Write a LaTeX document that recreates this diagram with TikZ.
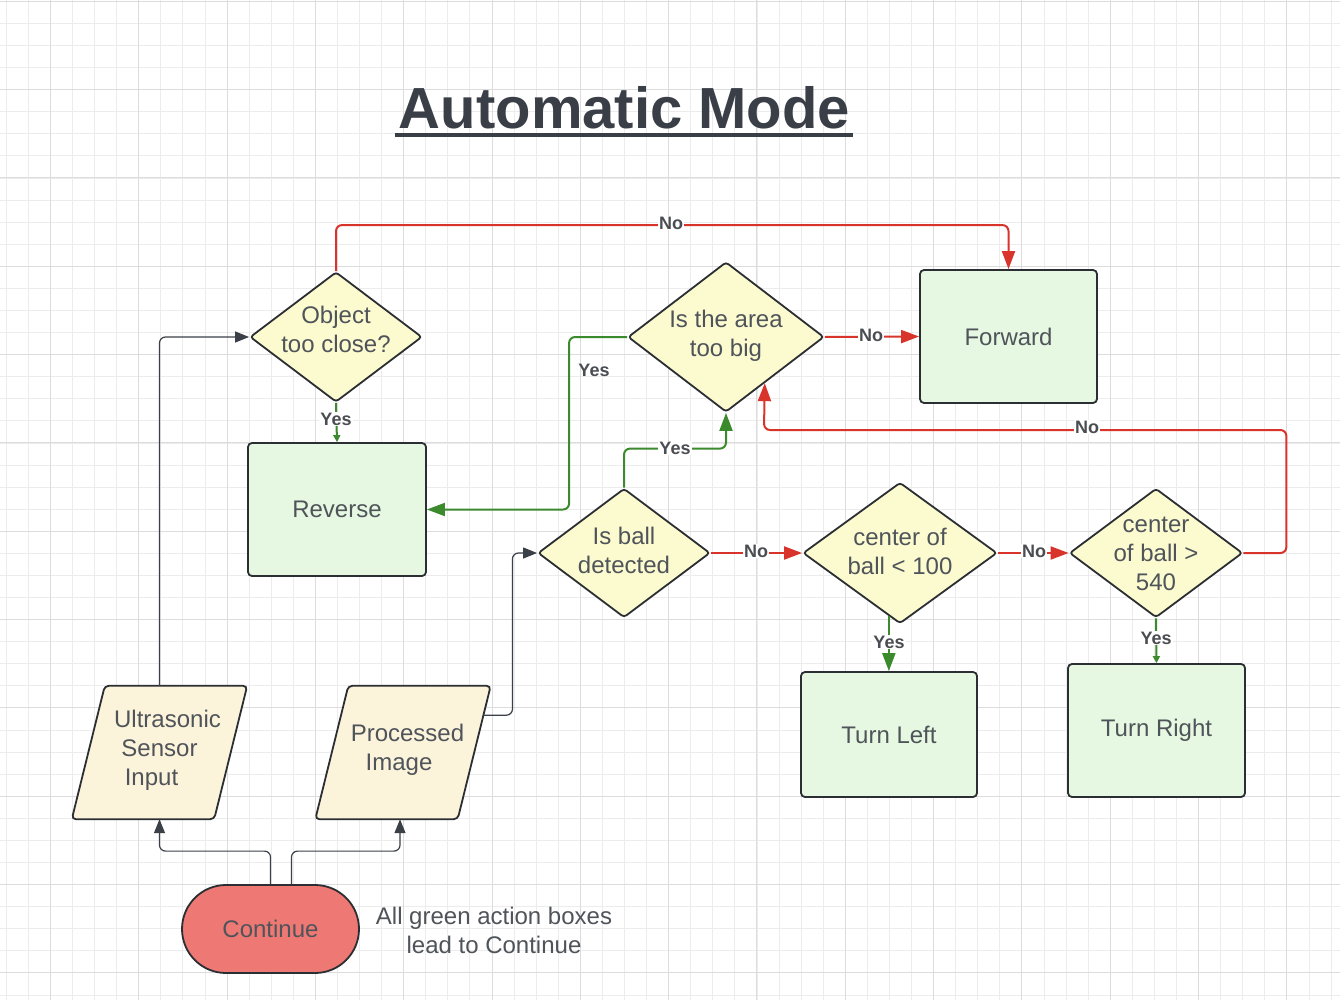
\documentclass[tikz,border=0pt]{standalone}
\usepackage{fontspec}
\setmainfont{Liberation Sans}
\usetikzlibrary{shapes.geometric,arrows.meta,calc}
\pgfdeclarelayer{gridlayer}
\pgfdeclarelayer{shapelayer}
\pgfsetlayers{gridlayer,shapelayer,main}
\definecolor{gminorc}{HTML}{ECECEC}
\definecolor{gmajorc}{HTML}{DCDCDC}
\definecolor{txtc}{HTML}{4F545A}
\definecolor{titlec}{HTML}{3A3E47}
\definecolor{strokec}{HTML}{2B2E33}
\definecolor{yfill}{HTML}{FCFACF}
\definecolor{gfill}{HTML}{E6F8E1}
\definecolor{cfill}{HTML}{FCF3DB}
\definecolor{rfill}{HTML}{EE7873}
\definecolor{redl}{HTML}{D9342B}
\definecolor{greenl}{HTML}{3C8A2E}
\definecolor{darkl}{HTML}{3B3F48}
\definecolor{lblc}{HTML}{4A4D52}
\newcommand{\ctext}[2][-8.8pt]{\makebox[0pt]{\smash{\raisebox{#1}{\begin{tabular}{@{}c@{}}#2\end{tabular}}}}}
\tikzset{
  gminor/.style={draw=gminorc, line width=0.8pt},
  gmajor/.style={draw=gmajorc, line width=1pt},
  nodefont/.style={font=\fontsize{24}{29}\selectfont, text=txtc},
  dec/.style={diamond, draw=strokec, line width=1.8pt, fill=yfill, rounded corners=3pt, inner sep=0pt, nodefont},
  actbox/.style={rectangle, draw=strokec, line width=1.8pt, fill=gfill, rounded corners=4pt, nodefont},
  iotxt/.style={rectangle, inner sep=0pt, minimum width=175pt, minimum height=133pt, nodefont},
  iopath/.style={draw=strokec, line width=1.8pt, fill=cfill, rounded corners=4pt},
  termbox/.style={rectangle, draw=strokec, line width=1.8pt, fill=rfill, rounded corners=44pt, minimum width=177pt, minimum height=88pt, nodefont},
  lbl/.style={font=\bfseries\fontsize{18}{20}\selectfont, text=lblc, fill=white, inner sep=1pt},
  rarr/.style={draw=redl, line width=2pt, rounded corners=6pt, -{Triangle[length=18pt,width=13pt]}},
  garr/.style={draw=greenl, line width=2pt, rounded corners=6pt, -{Triangle[length=18pt,width=13pt]}},
  garrs/.style={draw=greenl, line width=2pt, -{Triangle[length=7pt,width=7pt]}},
  darr/.style={draw=darkl, line width=1.2pt, rounded corners=6pt, -{Triangle[length=14pt,width=11pt]}}
}
\begin{document}
\begin{tikzpicture}[x=1pt,y=-1pt]
\useasboundingbox (0,0) rectangle (1340,1000);
\begin{pgfonlayer}{gridlayer}
\fill[white] (0,0) rectangle (1340,1000);
\foreach \i in {0,...,60} \draw[gminor] ({6.2+22.08*\i},0) -- ({6.2+22.08*\i},1000);
\foreach \i in {0,...,45} \draw[gminor] (0,{1.3+22.08*\i}) -- (1340,{1.3+22.08*\i});
\foreach \i in {0,...,14} \draw[gmajor] ({50.4+88.32*\i},0) -- ({50.4+88.32*\i},1000);
\foreach \i in {0,...,11} \draw[gmajor] (0,{1.3+88.32*\i}) -- (1340,{1.3+88.32*\i});
\end{pgfonlayer}

% title
\node[anchor=base, inner sep=0pt, font=\bfseries\fontsize{58}{64}\selectfont, text=titlec] (title) at (624.5,129) {Automatic Mode};
\draw[titlec, line width=3.5pt] ([xshift=-4pt,yshift=-5pt]title.south west) -- ([xshift=3pt,yshift=-5pt]title.south east);

% decisions
\node[dec, minimum width=172pt, minimum height=130pt] (obj) at (336,337) {\ctext[-1pt]{Object\\too close?}};
\node[dec, minimum width=196pt, minimum height=150pt] (area) at (726,337) {\ctext[-5pt]{Is the area\\too big}};
\node[dec, minimum width=172pt, minimum height=129pt] (ball) at (624,553) {\ctext[-6pt]{Is ball\\detected}};
\node[dec, minimum width=194pt, minimum height=141pt] (lt) at (900,553) {\ctext[-7pt]{center of\\ball < 100}};
\node[dec, minimum width=173pt, minimum height=129pt] (gt) at (1156,553) {\ctext[-8.8pt]{center\\of ball >\\540}};

% actions
\node[actbox, minimum width=178pt, minimum height=133pt] (rev) at (337,509.5) {Reverse};
\node[actbox, minimum width=177pt, minimum height=133pt] (fwd) at (1008.5,336.5) {Forward};
\node[actbox, minimum width=176pt, minimum height=125pt] (tl) at (889,734.5) {Turn Left};
\node[actbox, minimum width=177pt, minimum height=133pt] (tr) at (1156.5,730.5) {Turn Right};

% inputs (parallelograms)
\node[iotxt] (us) at (159.5,752.5) {\ctext[-4.3pt]{\hspace*{16pt}Ultrasonic\\Sensor\\Input\hspace*{16pt}}};
\node[iotxt] (pi) at (403,752.5) {\ctext[-4.3pt]{\hspace*{9pt}Processed\\Image\hspace*{8pt}}};
\begin{pgfonlayer}{shapelayer}
\draw[iopath] (us.south west) -- ([xshift=-33pt]us.south east) -- (us.north east) -- ([xshift=33pt]us.north west) -- cycle;
\draw[iopath] (pi.south west) -- ([xshift=-33pt]pi.south east) -- (pi.north east) -- ([xshift=33pt]pi.north west) -- cycle;
\end{pgfonlayer}

% terminal
\node[termbox] (cont) at (270.5,929) {Continue};
\node[nodefont, align=center, inner sep=0pt] (note) at (494,930) {All green action boxes\\lead to Continue};

% connectors
\draw[rarr] (obj.north) -- ++(0,-46) -| (fwd.north);
\node[lbl] (l1) at (671,223) {No};

\draw[garrs] (obj.south) -- (rev.north);
\node[lbl] (l2) at (336,419) {Yes};

\draw[garr] (area.west) -- ++(-58,0) |- (rev.east);
\node[lbl, fill=none] (l3) at (594,370) {Yes};

\draw[rarr] (area.east) -- (fwd.west);
\node[lbl] (l4) at (871,335) {No};

\draw[garr] (ball.north) -- ++(0,-39) -| (area.south);
\node[lbl] (l5) at (675,448) {Yes};

\draw[rarr] (ball.east) -- (lt.west);
\node[lbl] (l6) at (756,551) {No};

\draw[rarr] (lt.east) -- (gt.west);
\node[lbl] (l7) at (1034,551) {No};

\coordinate (ret) at (764,430);
\draw[rarr] (gt.east) -- ++(43,0) |- (ret) -- (area.-50);
\node[lbl] (l8) at (1087,427) {No};

\draw[garr] (lt.-100) -- (lt.-100 |- tl.north);
\node[lbl] (l9) at (889,642) {Yes};

\draw[garrs] (gt.south) -- (tr.north);
\node[lbl] (l10) at (1156,638) {Yes};

\draw[darr] (us.center |- us.north) |- (obj.west);
\coordinate (pe) at ($(pi.north east)!0.22!([xshift=-33pt]pi.south east)$);
\draw[darr] (pe) -- ++(29,0) |- (ball.west);

\draw[darr] (cont.north) -- ++(0,-33) -| (us.center |- us.south);
\draw[darr] ([xshift=21pt]cont.north) -- ++(0,-33) -| ([xshift=-3pt]pi.center |- pi.south);
\end{tikzpicture}
\end{document}
